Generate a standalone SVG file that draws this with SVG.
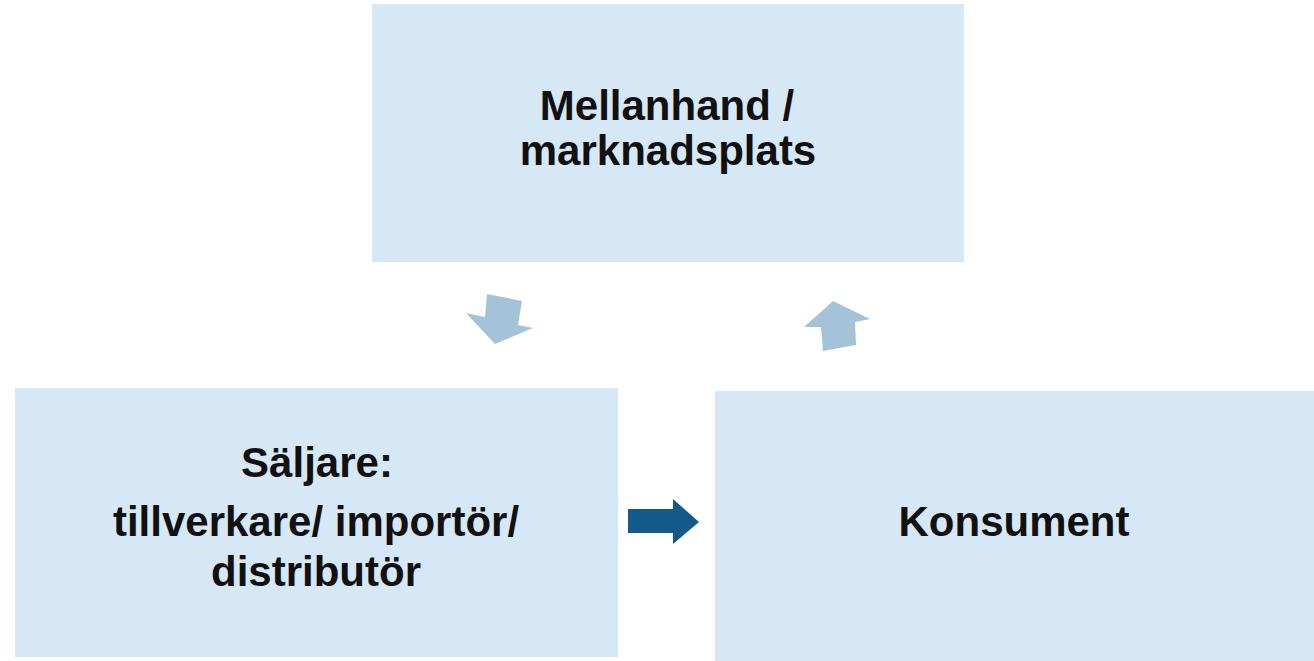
<svg xmlns="http://www.w3.org/2000/svg" width="1314" height="661" viewBox="0 0 1314 661">
  <style>
    .box { fill: #d6e8f6; }
    .lbl { font-family: "Liberation Sans", Arial, sans-serif; font-weight: bold; font-size: 42px; fill: #111111; text-anchor: middle; }
    .soft { fill: #a4c3d9; }
    .main { fill: #135a8a; }
  </style>
  <rect width="1314" height="661" fill="#ffffff"/>
  <g id="node-mellanhand">
    <rect class="box" x="372" y="4" width="592" height="258"/>
    <text class="lbl" x="667" y="120">Mellanhand /</text>
    <text class="lbl" x="668" y="165">marknadsplats</text>
  </g>
  <g id="node-saljare">
    <rect class="box" x="15" y="388" width="603" height="269"/>
    <text class="lbl" x="317" y="477">Säljare:</text>
    <text class="lbl" x="316" y="536">tillverkare/ importör/</text>
    <text class="lbl" x="316" y="586">distributör</text>
  </g>
  <g id="node-konsument">
    <rect class="box" x="715" y="391" width="599" height="270"/>
    <text class="lbl" x="1014" y="536">Konsument</text>
  </g>
  <g id="connectors">
    <polygon class="soft" points="487,294 522,301 518,325 533,328 495,344 466,313 485,317"/>
    <polygon class="soft" points="833,301 870,319 855,322 856,345 823,351 821,327 804,327"/>
    <polygon class="main" points="628,509 673,509 673,499 699,522 673,544 673,533 628,533"/>
  </g>
</svg>
